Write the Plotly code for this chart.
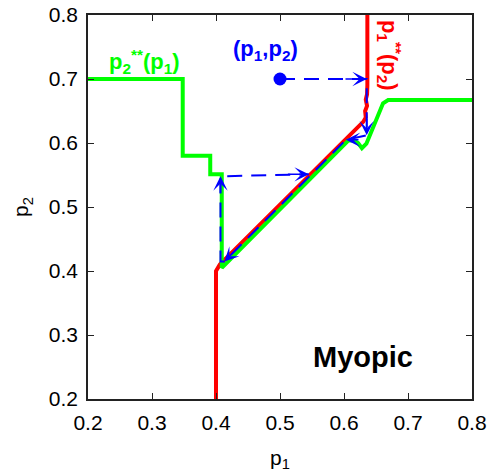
import plotly.graph_objects as go

# Best response curves
green_x = [0.2, 0.348, 0.348, 0.391, 0.391, 0.409, 0.409, 0.607, 0.615, 0.622, 0.628, 0.635, 0.661, 0.669, 0.8]
green_y = [0.7, 0.7, 0.58, 0.58, 0.551, 0.551, 0.405, 0.604, 0.604, 0.600, 0.592, 0.599, 0.662, 0.667, 0.667]

red_x = [0.4, 0.4, 0.406, 0.630, 0.634, 0.633, 0.636, 0.634, 0.636, 0.6365, 0.6365]
red_y = [0.2, 0.4, 0.41, 0.633, 0.640, 0.650, 0.658, 0.668, 0.676, 0.69, 0.8]

# Adjustment path (dashed blue)
path_x = [0.5, 0.6355, 0.6355, 0.603, 0.413, 0.407, 0.407, 0.545]
path_y = [0.7, 0.7, 0.612, 0.605, 0.415, 0.415, 0.548, 0.551]
start_x = [0.5]
start_y = [0.7]

# arrow heads: (tip_x, tip_y, tail_x, tail_y)
arrows = [
    (0.6355, 0.7, 0.60, 0.7),
    (0.6355, 0.612, 0.6355, 0.64),
    (0.603, 0.605, 0.625, 0.605),
    (0.413, 0.415, 0.435, 0.437),
    (0.407, 0.548, 0.407, 0.52),
    (0.545, 0.551, 0.51, 0.551),
]

tick_vals = [0.2, 0.3, 0.4, 0.5, 0.6, 0.7, 0.8]
tick_text = ["0.2", "0.3", "0.4", "0.5", "0.6", "0.7", "0.8"]

FONT = "Liberation Sans, Arial, Helvetica, sans-serif"
GREEN = "#00ff00"
RED = "#ff0000"
BLUE = "#0000ff"

fig = go.Figure()
fig.add_trace(go.Scatter(x=red_x, y=red_y, mode="lines",
                         line=dict(color=RED, width=4), hoverinfo="skip"))
fig.add_trace(go.Scatter(x=green_x, y=green_y, mode="lines",
                         line=dict(color=GREEN, width=4), hoverinfo="skip"))
fig.add_trace(go.Scatter(x=path_x, y=path_y, mode="lines",
                         line=dict(color=BLUE, width=2, dash="15px,9px"), hoverinfo="skip"))
fig.add_trace(go.Scatter(x=start_x, y=start_y, mode="markers",
                         marker=dict(color=BLUE, size=13), hoverinfo="skip"))

for tx, ty, sx, sy in arrows:
    fig.add_annotation(x=tx, y=ty, ax=sx, ay=sy, xref="x", yref="y",
                       axref="x", ayref="y", text="", showarrow=True,
                       arrowhead=3, arrowsize=1.6, arrowwidth=1.5,
                       arrowcolor=BLUE)

fig.add_annotation(x=0.288, y=0.728, xref="x", yref="y", showarrow=False,
                   text="<b>p<sub>2</sub><sup>**</sup>(p<sub>1</sub>)</b>",
                   font=dict(family=FONT, size=22, color=GREEN))
fig.add_annotation(x=0.477, y=0.745, xref="x", yref="y", showarrow=False,
                   text="<b>(p<sub>1</sub>,p<sub>2</sub>)</b>",
                   font=dict(family=FONT, size=22, color=BLUE))
fig.add_annotation(x=0.671, y=0.737, xref="x", yref="y", showarrow=False,
                   textangle=90,
                   text="<b>p<sub>1</sub><sup>**</sup>(p<sub>2</sub>)</b>",
                   font=dict(family=FONT, size=22, color=RED))
fig.add_annotation(x=0.630, y=0.266, xref="x", yref="y", showarrow=False,
                   text="<b>Myopic</b>",
                   font=dict(family=FONT, size=29, color="black"))

axis_common = dict(
    range=[0.2, 0.8], tickvals=tick_vals, ticktext=tick_text,
    ticks="inside", ticklen=6, tickwidth=1, tickcolor="#222",
    showline=True, linecolor="#222", linewidth=1.5, mirror="ticks",
    showgrid=False, zeroline=False, automargin=False,
    ticklabeloverflow="allow",
    tickfont=dict(family=FONT, size=21, color="black"),
)

fig.update_layout(
    width=493, height=474,
    margin=dict(l=88, r=21, t=15, b=75),
    paper_bgcolor="white", plot_bgcolor="white",
    showlegend=False,
    xaxis=dict(**axis_common, ticklabelstandoff=4,
               title=dict(text="p<sub>1</sub>", standoff=17,
                          font=dict(family=FONT, size=21, color="black"))),
    yaxis=dict(**axis_common, ticklabelstandoff=4,
               title=dict(text="p<sub>2</sub>", standoff=14,
                          font=dict(family=FONT, size=21, color="black"))),
)

# remove the default page margin so the figure sits at the window's corner
fig.write_html("out.html",
               config={"displayModeBar": False},
               post_script="document.body.style.margin='0px';")
